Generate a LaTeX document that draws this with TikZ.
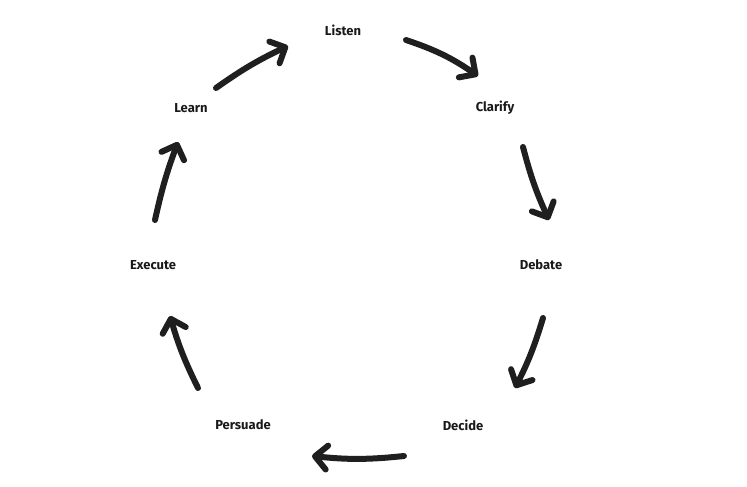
\documentclass[tikz,border=0pt]{standalone}
\usepackage{fontspec}
\setmainfont{Fira Sans}
\usetikzlibrary{arrows.meta}
\begin{document}
\begin{tikzpicture}[x=1pt,y=-1pt,
  lbl/.style={font=\bfseries\fontsize{13}{15}\selectfont, text=black!90},
  arr/.style={line width=6pt, line cap=round, draw=black!88,
    -{Straight Barb[length=12pt,width=24pt,line width=6pt,round]}}]
\useasboundingbox (0,0) rectangle (747,487);
\node[lbl] (listen) at (343,30) {Listen};
\node[lbl] (clarify) at (495,108) {Clarify};
\node[lbl] (debate) at (541,265) {Debate};
\node[lbl] (decide) at (463,425) {Decide};
\node[lbl] (persuade) at (243,425) {Persuade};
\node[lbl] (execute) at (153,265) {Execute};
\node[lbl] (learn) at (191,108) {Learn};
\coordinate (a1) at (406,40); \coordinate (b1) at (478,76);
\coordinate (a2) at (523,147); \coordinate (b2) at (549,220);
\coordinate (a3) at (543,318); \coordinate (b3) at (515,388);
\coordinate (a4) at (404,456); \coordinate (b4) at (312,456);
\coordinate (a5) at (198,388); \coordinate (b5) at (170,316);
\coordinate (a6) at (155,220); \coordinate (b6) at (178,142);
\coordinate (a7) at (216,88); \coordinate (b7) at (288,46);
\draw[arr] (a1) to[bend left=8] (b1);
\draw[arr] (a2) to[bend right=5] (b2);
\draw[arr] (a3) to[bend left=5] (b3);
\draw[arr] (a4) to[bend left=6] (b4);
\draw[arr] (a5) to[bend left=5] (b5);
\draw[arr] (a6) to[bend left=4] (b6);
\draw[arr] (a7) to[bend left=5] (b7);
\end{tikzpicture}
\end{document}
